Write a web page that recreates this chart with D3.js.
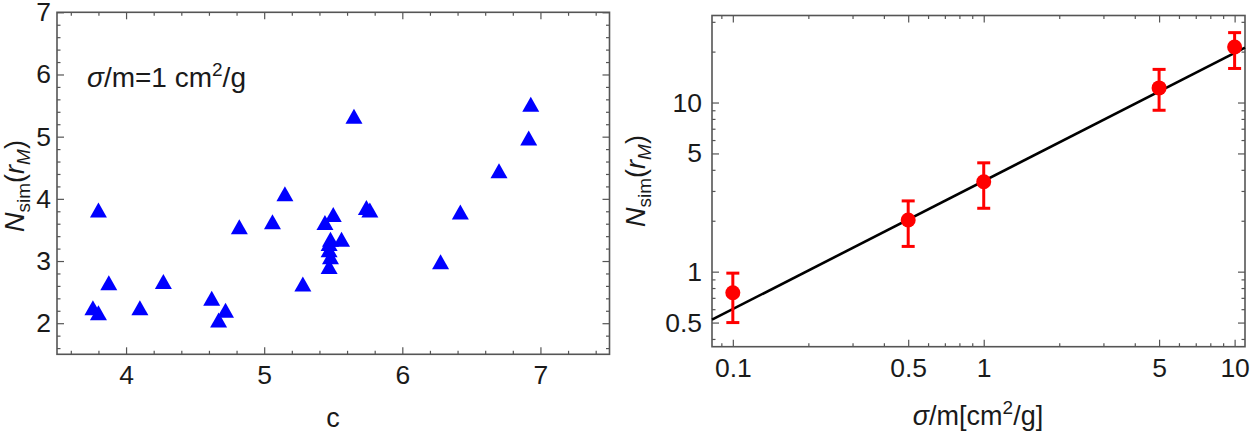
<!DOCTYPE html>
<html><head><meta charset="utf-8">
<script src="https://cdn.jsdelivr.net/npm/d3@7"></script>
<style>
html,body{margin:0;padding:0;background:#fff;}
svg{display:block;font-family:"Liberation Sans",Arial,sans-serif;}
</style></head>
<body><svg id="chart" width="1254" height="433"></svg>
<script>
// ---- Left panel data: concentration c vs N_sim(r_M) at sigma/m = 1 cm^2/g ----
const cValues = [3.76, 3.80, 3.80, 3.875, 4.10, 4.27, 4.62, 4.72, 4.67, 4.82,
                 5.06, 5.15, 5.28, 5.44, 5.50, 5.48, 5.56, 5.47, 5.48, 5.47,
                 5.47, 5.65, 5.74, 5.765, 6.277, 6.42, 6.70, 6.915, 6.93];
const nValues = [2.25, 2.17, 3.82, 2.65, 2.25, 2.67, 2.40, 2.21, 2.05, 3.55,
                 3.63, 4.08, 2.63, 3.62, 3.75, 3.35, 3.35, 3.18, 3.07, 2.91,
                 3.28, 5.33, 3.86, 3.82, 2.99, 3.79, 4.45, 4.98, 5.52];
const leftXTicks = [4, 5, 6, 7];
const leftYTicks = [2, 3, 4, 5, 6, 7];

// ---- Right panel data: sigma/m vs N_sim(r_M) with error bars ----
const sigmaValues = [0.1, 0.5, 1, 5, 10];
const nMean  = [0.75, 2.02, 3.40, 12.2, 21.3];
const nLow   = [0.50, 1.41, 2.37, 9.0, 15.9];
const nHigh  = [0.98, 2.62, 4.40, 15.7, 25.9];
// fitted power law line, endpoints read at the frame edges
const fitX = [0.0826, 11.0];
const fitY = [0.52, 21.1];
const rightXTicks = [0.1, 0.5, 1, 5, 10];
const rightXTickLabels = ["0.1", "0.5", "1", "5", "10"];
const rightXMinor = [0.09, 0.2, 0.3, 0.4, 0.6, 0.7, 0.8, 0.9, 2, 3, 4, 6, 7, 8, 9];
const rightYTicks = [0.5, 1, 5, 10];
const rightYTickLabels = ["0.5", "1", "5", "10"];
const rightYMinor = [0.4, 0.6, 0.7, 0.8, 0.9, 2, 3, 4, 6, 7, 8, 9, 20, 30];

const svg = d3.select("#chart");
const FRAME = "#555";
const TXT = "#1a1a1a";
const FS = 26.5;

function styleAxis(g) {
  g.select(".domain").remove();
  g.selectAll(".tick line").attr("stroke", FRAME).attr("stroke-width", 1.2);
  g.selectAll(".tick text").attr("fill", TXT).style("font-size", FS + "px")
    .style("font-family", '"Liberation Sans",Arial,sans-serif');
}

function frameAxes(x, y, xMaj, xMin, yMaj, yMin, xFmt, yFmt, xPad, yPad) {
  const [x0, x1] = x.range();
  const [y0, y1] = y.range(); // y0 bottom, y1 top
  const MJ = 7, MN = 3.5;
  svg.append("g").attr("transform", `translate(0,${y0})`)
    .call(d3.axisBottom(x).tickValues(xMaj).tickSize(-MJ).tickPadding(xPad).tickFormat(xFmt)).call(styleAxis);
  svg.append("g").attr("transform", `translate(0,${y0})`)
    .call(d3.axisBottom(x).tickValues(xMin).tickSize(-MN).tickFormat("")).call(styleAxis);
  svg.append("g").attr("transform", `translate(0,${y1})`)
    .call(d3.axisTop(x).tickValues(xMaj).tickSize(-MJ).tickFormat("")).call(styleAxis);
  svg.append("g").attr("transform", `translate(0,${y1})`)
    .call(d3.axisTop(x).tickValues(xMin).tickSize(-MN).tickFormat("")).call(styleAxis);
  svg.append("g").attr("transform", `translate(${x0},0)`)
    .call(d3.axisLeft(y).tickValues(yMaj).tickSize(-MJ).tickPadding(yPad).tickFormat(yFmt)).call(styleAxis);
  svg.append("g").attr("transform", `translate(${x0},0)`)
    .call(d3.axisLeft(y).tickValues(yMin).tickSize(-MN).tickFormat("")).call(styleAxis);
  svg.append("g").attr("transform", `translate(${x1},0)`)
    .call(d3.axisRight(y).tickValues(yMaj).tickSize(-MJ).tickFormat("")).call(styleAxis);
  svg.append("g").attr("transform", `translate(${x1},0)`)
    .call(d3.axisRight(y).tickValues(yMin).tickSize(-MN).tickFormat("")).call(styleAxis);
  svg.append("rect").attr("x", x0).attr("y", y1).attr("width", x1 - x0).attr("height", y0 - y1)
    .attr("fill", "none").attr("stroke", FRAME).attr("stroke-width", 1.6);
}

function yLabel(cx, cy) {
  const t = svg.append("text").attr("transform", `translate(${cx},${cy}) rotate(-90)`)
    .attr("text-anchor", "middle").attr("fill", TXT).style("font-size", "27px");
  t.append("tspan").attr("font-style", "italic").text("N");
  t.append("tspan").attr("font-size", "19px").attr("dy", 6).text("sim");
  t.append("tspan").attr("dy", -6).text("(");
  t.append("tspan").attr("font-style", "italic").text("r");
  t.append("tspan").attr("font-style", "italic").attr("font-size", "19px").attr("dy", 6).text("M");
  t.append("tspan").attr("dy", -6).text(")");
}

// ================= LEFT PANEL =================
const xL = d3.scaleLinear().domain([3.5, 7.5]).range([57, 609.5]);
const yL = d3.scaleLinear().domain([1.5, 7]).range([354.3, 12.3]);
const xLMinor = d3.range(3.6, 7.5, 0.2).filter(v => Math.abs(v - Math.round(v)) > 1e-6);
const yLMinor = d3.range(1.6, 7, 0.2).filter(v => Math.abs(v - Math.round(v)) > 1e-6);
frameAxes(xL, yL, leftXTicks, xLMinor, leftYTicks, yLMinor, d3.format("d"), d3.format("d"), 11, 6);

const TW = 17, TH = 15;
svg.append("g").selectAll("path").data(cValues.map((c, i) => [c, nValues[i]])).join("path")
  .attr("d", d => {
    const cx = xL(d[0]), cy = yL(d[1]);
    return `M${cx},${cy - TH / 2}L${cx + TW / 2},${cy + TH / 2}L${cx - TW / 2},${cy + TH / 2}Z`;
  })
  .attr("fill", "#0000ff");

const ann = svg.append("text").attr("x", 87).attr("y", 87).attr("fill", TXT).style("font-size", "28px");
ann.append("tspan").attr("font-style", "italic").text("σ");
ann.append("tspan").text("/m=1 cm");
ann.append("tspan").attr("font-size", "19px").attr("dy", -11).text("2");
ann.append("tspan").attr("dy", 11).text("/g");

svg.append("text").attr("x", 333).attr("y", 427).attr("text-anchor", "middle")
  .attr("fill", TXT).style("font-size", "27px").text("c");
yLabel(24, 186);

// ================= RIGHT PANEL =================
const xR = d3.scaleLog().domain([0.0826, 11]).range([712, 1245]);
const yR = d3.scaleLog().domain([0.36, 32.7]).range([346.7, 15.5]);
frameAxes(xR, yR, rightXTicks, rightXMinor, rightYTicks, rightYMinor,
  (d, i) => rightXTickLabels[i], (d, i) => rightYTickLabels[i], 11, 10);

svg.append("path").datum(fitX.map((x, i) => [x, fitY[i]]))
  .attr("d", d3.line().x(d => xR(d[0])).y(d => yR(d[1])))
  .attr("stroke", "#000").attr("stroke-width", 2.6).attr("fill", "none");

const CAP = 13;
const eb = svg.append("g").attr("stroke", "#ff0000").attr("stroke-width", 3).attr("fill", "none");
sigmaValues.forEach((s, i) => {
  const x = xR(s);
  eb.append("line").attr("x1", x).attr("x2", x).attr("y1", yR(nLow[i])).attr("y2", yR(nHigh[i]));
  eb.append("line").attr("x1", x - CAP / 2).attr("x2", x + CAP / 2).attr("y1", yR(nLow[i])).attr("y2", yR(nLow[i]));
  eb.append("line").attr("x1", x - CAP / 2).attr("x2", x + CAP / 2).attr("y1", yR(nHigh[i])).attr("y2", yR(nHigh[i]));
});
svg.append("g").selectAll("circle").data(sigmaValues).join("circle")
  .attr("cx", d => xR(d)).attr("cy", (d, i) => yR(nMean[i])).attr("r", 7.5).attr("fill", "#ff0000");

const xt = svg.append("text").attr("x", 978).attr("y", 425).attr("text-anchor", "middle")
  .attr("fill", TXT).style("font-size", "27px");
xt.append("tspan").attr("font-style", "italic").text("σ");
xt.append("tspan").text("/m[cm");
xt.append("tspan").attr("font-size", "19px").attr("dy", -11).text("2");
xt.append("tspan").attr("dy", 11).text("/g]");
yLabel(645, 181);
</script>
</body></html>
